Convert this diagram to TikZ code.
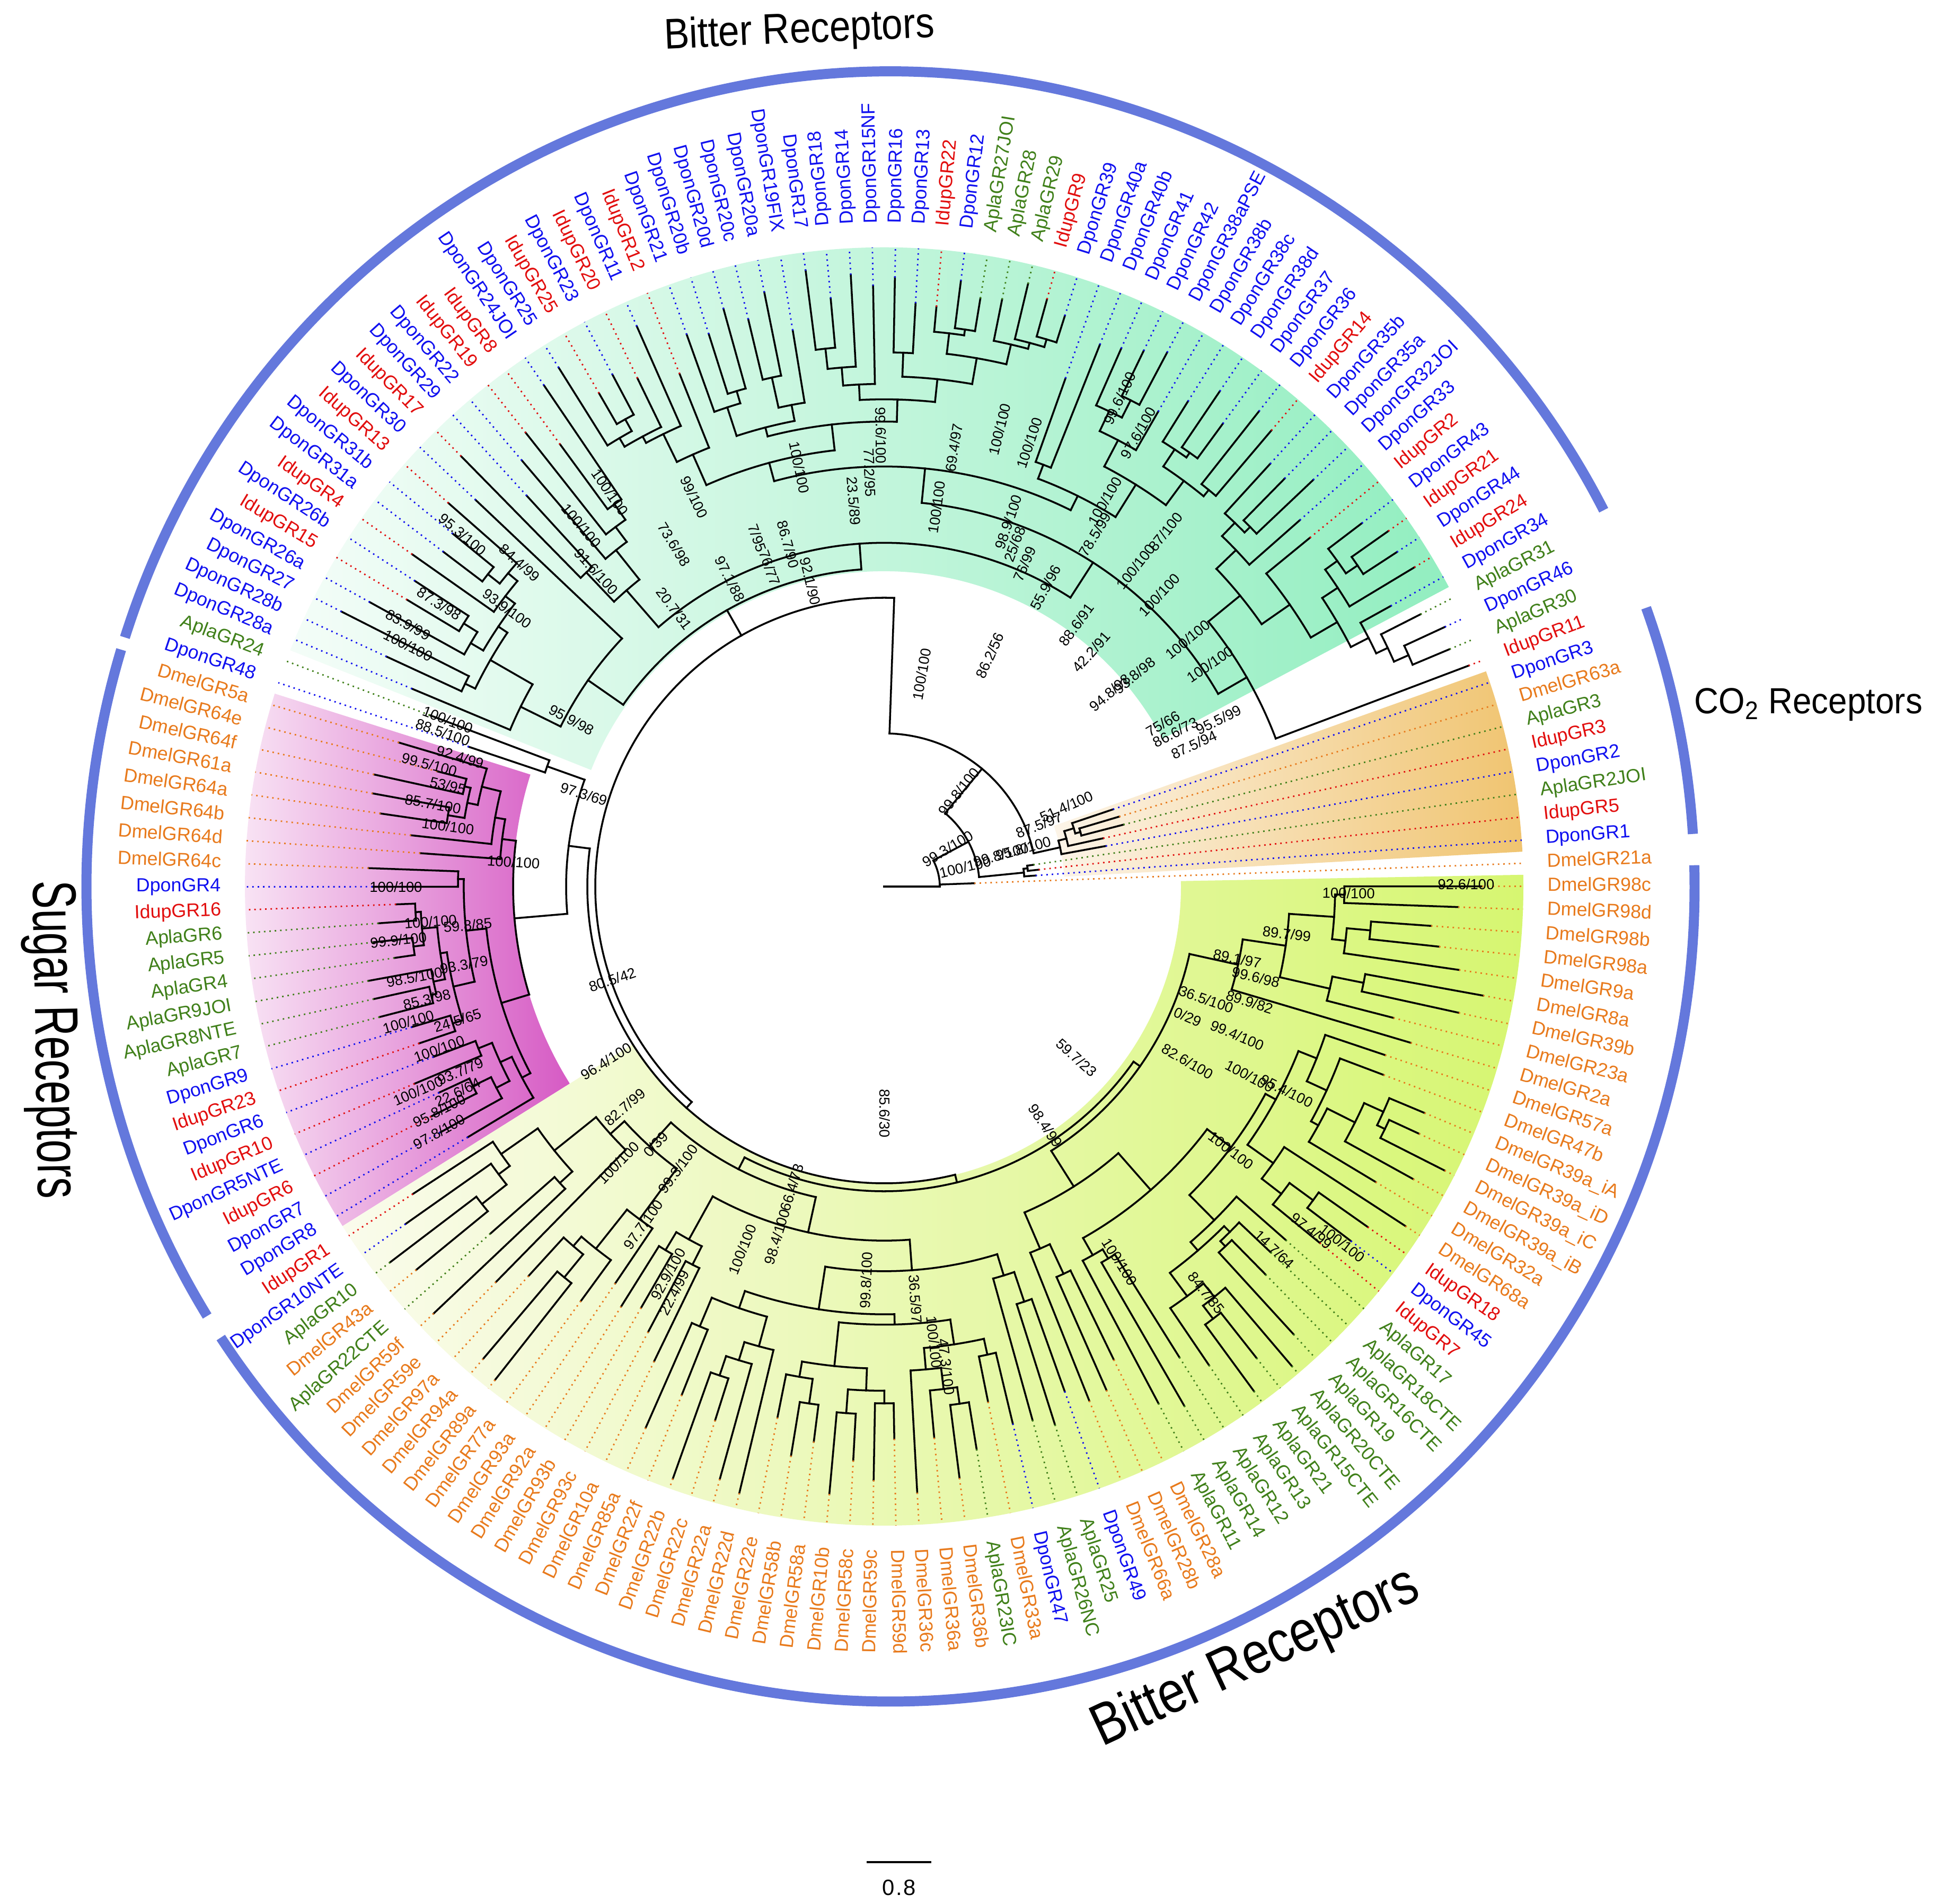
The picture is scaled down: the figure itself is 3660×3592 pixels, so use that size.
\documentclass[tikz,border=0pt]{standalone}
\usepackage{fontspec}
\setmainfont{Liberation Sans}
\usepackage{graphicx}

\definecolor{dmel}{RGB}{232,122,28}
\definecolor{dpon}{RGB}{16,16,240}
\definecolor{idup}{RGB}{226,14,14}
\definecolor{apla}{RGB}{64,128,26}
\definecolor{ringblue}{RGB}{100,120,220}
\definecolor{greenlo}{RGB}{244,253,248}
\definecolor{greenhi}{RGB}{146,238,192}
\definecolor{magentalo}{RGB}{251,238,248}
\definecolor{magentahi}{RGB}{214,90,196}
\definecolor{yellowlo}{RGB}{250,251,236}
\definecolor{yellowhi}{RGB}{214,246,112}
\definecolor{orangelo}{RGB}{252,244,232}
\definecolor{orangehi}{RGB}{240,196,112}

\tikzstyle{branch}=[line width=1pt, line cap=rect]
\tikzstyle{leafline}=[line width=0.8pt, dash pattern=on 0.8pt off 2.1pt]
\tikzstyle{tiplab}=[inner sep=0pt, font=\fontsize{10.2}{12}\selectfont]
\tikzstyle{bootlab}=[inner sep=0pt, font=\fontsize{7.8}{9}\selectfont]
\tikzstyle{ringarc}=[draw=ringblue, line width=5.4pt]
\tikzstyle{grouplab}=[inner sep=0pt]

% leaf angles, radii (1 unit = 1 px of the figure)
\newcommand\aOne{2.09}
\newcommand\dA{2.068966}
\newcommand\Rw{1206}
\newcommand\Rlab{1251}
\newcommand\Tmax{1190}
\newcommand\Lmin{0.3}

% one leaf: index, parent radius, tip radius
\newcommand\grleaf[3]{%
 \begingroup
  \edef\gi{#1}%
  \pgfmathsetmacro\gp{#2}%
  \pgfmathsetmacro\gt{#3}%
  \pgfmathsetmacro\gang{\aOne-(\gi-1)*\dA}%
  \draw[branch] (\gang:\gp) -- (\gang:\gt);
  \pgfmathtruncatemacro\gshow{\gt<\Rw-10}%
  \edef\gcol{\csname lc\gi\endcsname}%
  \ifnum\gshow=1
   \draw[leafline,draw=\gcol] (\gang:\gt) -- (\gang:\Rw);
  \fi
  \xdef\retang{\gang}%
 \endgroup}

% radius of a child node
\newcommand\grrad[2]{%
 \ifnum#2=1
  \pgfmathsetmacro#1{\gr+(\Tmax-\gr)*(\Lmin+rnd*(1-\Lmin))}%
 \else
  \pgfmathsetmacro#1{\gr+(\Tmax-\gr)*(0.05+rnd*0.18)}%
 \fi}

% a clade over leaves first..last: first, last, parent radius, node radius
\newcommand\grclade[4]{%
 \begingroup
  \edef\gfa{#1}\edef\gfb{#2}%
  \ifnum\gfa=\gfb\relax
   \grleaf{\gfa}{#3}{#4}%
  \else
   \pgfmathsetmacro\gp{#3}\pgfmathsetmacro\gr{#4}%
   \edef\gbm{\the\numexpr\gfb-1\relax}%
   \pgfmathrandominteger{\gm}{\gfa}{\gbm}%
   \edef\gmp{\the\numexpr\gm+1\relax}%
   \edef\gsa{\the\numexpr\gm-\gfa+1\relax}%
   \edef\gsb{\the\numexpr\gfb-\gm\relax}%
   \grrad\gra{\gsa}%
   \grrad\grb{\gsb}%
   \grclade{\gfa}{\gm}{\gr}{\gra}\let\gaa\retang
   \grclade{\gmp}{\gfb}{\gr}{\grb}\let\gab\retang
   \draw[branch] (\gaa:\gr) arc[start angle=\gaa, end angle=\gab, radius=\gr];
   \pgfmathsetmacro\gmid{(\gaa+\gab)/2}%
   \draw[branch] (\gmid:\gp) -- (\gmid:\gr);
   \xdef\retang{\gmid}%
  \fi
 \endgroup}

% join two parts: parent radius, node radius, part one, part two
\newcommand\grjoin[4]{%
 \begingroup
  \pgfmathsetmacro\gjp{#1}\pgfmathsetmacro\gjr{#2}%
  #3\let\gja\retang
  #4\let\gjb\retang
  \draw[branch] (\gja:\gjr) arc[start angle=\gja, end angle=\gjb, radius=\gjr];
  \pgfmathsetmacro\gjm{(\gja+\gjb)/2}%
  \draw[branch] (\gjm:\gjp) -- (\gjm:\gjr);
  \xdef\retang{\gjm}%
 \endgroup}

% same, with the node at a given angle
\newcommand\grjoinat[5]{%
 \begingroup
  \pgfmathsetmacro\gjp{#1}\pgfmathsetmacro\gjr{#2}\pgfmathsetmacro\gjm{#3}%
  #4\let\gja\retang
  #5\let\gjb\retang
  \draw[branch] (\gja:\gjr) arc[start angle=\gja, end angle=\gjb, radius=\gjr];
  \draw[branch] (\gjm:\gjr) arc[start angle=\gjm, end angle=\gja, radius=\gjr];
  \draw[branch] (\gjm:\gjp) -- (\gjm:\gjr);
  \xdef\retang{\gjm}%
 \endgroup}

% highlighted clade: start angle, end angle, inner, outer, colour
\newcommand\clsector[5]{%
 \shade[left color=#5lo, right color=#5hi] (#1:#3) arc[start angle=#1, end angle=#2, radius=#3]
   -- (#2:#4) arc[start angle=#2, end angle=#1, radius=#4] -- cycle;}

\begin{document}
\begin{tikzpicture}[x=0.1mm,y=0.1mm]
\useasboundingbox (0,0) rectangle (3660,3592);
\fill[white] (0,0) rectangle (3660,3592);
\coordinate (ctr) at (1668,1919);
\coordinate (rc) at (1680,1919);
\pgfmathsetseed{11}

\begin{scope}[shift={(ctr)}]
 % clade highlights
 \clsector{-332.05}{-201.70}{595}{\Rw}{green}
 \clsector{-356.87}{-340.32}{340}{\Rw}{orange}
 \clsector{-197.57}{-147.91}{700}{\Rw}{magenta}
 \clsector{-147.91}{1.055}{560}{\Rw}{yellow}

 % tip labels
 \foreach \lab/\col [count=\k from 2] in {
  DmelGR98c/dmel, DmelGR98d/dmel, DmelGR98b/dmel, DmelGR98a/dmel, DmelGR9a/dmel,
  DmelGR8a/dmel, DmelGR39b/dmel, DmelGR23a/dmel, DmelGR2a/dmel, DmelGR57a/dmel,
  DmelGR47b/dmel, DmelGR39a\_iA/dmel, DmelGR39a\_iD/dmel, DmelGR39a\_iC/dmel, DmelGR39a\_iB/dmel,
  DmelGR32a/dmel, DmelGR68a/dmel, IdupGR18/idup, DponGR45/dpon, IdupGR7/idup,
  AplaGR17/apla, AplaGR18CTE/apla, AplaGR16CTE/apla, AplaGR19/apla, AplaGR20CTE/apla,
  AplaGR15CTE/apla, AplaGR21/apla, AplaGR13/apla, AplaGR12/apla, AplaGR14/apla,
  AplaGR11/apla, DmelGR28a/dmel, DmelGR28b/dmel, DmelGR66a/dmel, DponGR49/dpon,
  AplaGR25/apla, AplaGR26NC/apla, DponGR47/dpon, DmelGR33a/dmel, AplaGR23IC/apla,
  DmelGR36b/dmel, DmelGR36a/dmel, DmelGR36c/dmel, DmelGR59d/dmel, DmelGR59c/dmel,
  DmelGR58c/dmel, DmelGR10b/dmel, DmelGR58a/dmel, DmelGR58b/dmel, DmelGR22e/dmel,
  DmelGR22d/dmel, DmelGR22a/dmel, DmelGR22c/dmel, DmelGR22b/dmel, DmelGR22f/dmel,
  DmelGR85a/dmel, DmelGR10a/dmel, DmelGR93c/dmel, DmelGR93b/dmel, DmelGR92a/dmel,
  DmelGR93a/dmel, DmelGR77a/dmel, DmelGR89a/dmel, DmelGR94a/dmel, DmelGR97a/dmel,
  DmelGR59e/dmel, DmelGR59f/dmel, AplaGR22CTE/apla, DmelGR43a/dmel, AplaGR10/apla,
  DponGR10NTE/dpon, IdupGR1/idup, DponGR8/dpon, DponGR7/dpon, IdupGR6/idup,
  DponGR5NTE/dpon, IdupGR10/idup, DponGR6/dpon, IdupGR23/idup, DponGR9/dpon,
  AplaGR7/apla, AplaGR8NTE/apla, AplaGR9JOI/apla, AplaGR4/apla, AplaGR5/apla,
  AplaGR6/apla, IdupGR16/idup, DponGR4/dpon, DmelGR64c/dmel, DmelGR64d/dmel,
  DmelGR64b/dmel, DmelGR64a/dmel, DmelGR61a/dmel, DmelGR64f/dmel, DmelGR64e/dmel,
  DmelGR5a/dmel, DponGR48/dpon, AplaGR24/apla, DponGR28a/dpon, DponGR28b/dpon,
  DponGR27/dpon, DponGR26a/dpon, IdupGR15/idup, DponGR26b/dpon, IdupGR4/idup,
  DponGR31a/dpon, DponGR31b/dpon, IdupGR13/idup, DponGR30/dpon, IdupGR17/idup,
  DponGR29/dpon, DponGR22/dpon, IdupGR19/idup, IdupGR8/idup, DponGR24JOI/dpon,
  DponGR25/dpon, IdupGR25/idup, DponGR23/dpon, IdupGR20/idup, DponGR11/dpon,
  IdupGR12/idup, DponGR21/dpon, DponGR20b/dpon, DponGR20d/dpon, DponGR20c/dpon,
  DponGR20a/dpon, DponGR19FIX/dpon, DponGR17/dpon, DponGR18/dpon, DponGR14/dpon,
  DponGR15NF/dpon, DponGR16/dpon, DponGR13/dpon, IdupGR22/idup, DponGR12/dpon,
  AplaGR27JOI/apla, AplaGR28/apla, AplaGR29/apla, IdupGR9/idup, DponGR39/dpon,
  DponGR40a/dpon, DponGR40b/dpon, DponGR41/dpon, DponGR42/dpon, DponGR38aPSE/dpon,
  DponGR38b/dpon, DponGR38c/dpon, DponGR38d/dpon, DponGR37/dpon, DponGR36/dpon,
  IdupGR14/idup, DponGR35b/dpon, DponGR35a/dpon, DponGR32JOI/dpon, DponGR33/dpon,
  IdupGR2/idup, DponGR43/dpon, IdupGR21/idup, DponGR44/dpon, IdupGR24/idup,
  DponGR34/dpon, AplaGR31/apla, DponGR46/dpon, AplaGR30/apla, IdupGR11/idup,
  DponGR3/dpon, DmelGR63a/dmel, AplaGR3/apla, IdupGR3/idup, DponGR2/dpon,
  AplaGR2JOI/apla, IdupGR5/idup, DponGR1/dpon, DmelGR21a/dmel}{
  \pgfmathsetmacro\ang{\aOne-(\k-1)*\dA}
  \pgfmathsetmacro\nang{mod(\ang+720,360)}
  \pgfmathtruncatemacro\lefthalf{(\nang>97)&&(\nang<269)}
  \expandafter\xdef\csname lc\k\endcsname{\col}
  \ifnum\lefthalf=1
   \node[tiplab, text=\col, rotate=\nang-180, anchor=mid east] (tip\k) at (\ang:\Rlab) {\lab};
  \else
   \node[tiplab, text=\col, rotate=\nang, anchor=mid west] (tip\k) at (\ang:\Rlab) {\lab};
  \fi
 }

 % the tree
 \grjoinat{0}{105}{-360}
  {\grleaf{175}{105}{170}}
  {\grjoin{105}{180}
   {\def\Tmax{300}\def\Lmin{0.4}\grclade{172}{174}{180}{265}}
   {\grjoin{180}{289}
    {\def\Tmax{470}\def\Lmin{0.5}\grclade{167}{171}{289}{340}}
    {\grjoinat{289}{545}{-272}
     {\def\Tmax{1185}\def\Lmin{0.35}\grclade{100}{166}{545}{600}}
     {\grjoin{545}{560}
      {\grjoin{560}{600}
       {\def\Tmax{1000}\def\Lmin{0.4}\grclade{98}{99}{600}{675}}
       {\def\Tmax{1000}\def\Lmin{0.3}\grclade{74}{97}{600}{700}}}
      {\grjoin{560}{575}
       {\def\Tmax{1190}\def\Lmin{0.3}\grclade{36}{73}{575}{600}}
       {\def\Tmax{1190}\def\Lmin{0.3}\grclade{2}{35}{575}{590}}}}}}}

 % support values, placed along the branches
 \foreach \bx/\by/\ba/\bb [count=\n] in {
  493/398/100/100, 374/432/95.3/100, 545/440/73.6/98, 561/402/99/100, 482/462/91.6/100,
  590/468/97.1/88, 637/440/86.7/90, 655/470/92.1/90, 646/378/100/100, 690/405/23.5/89,
  703/382/77.2/95, 712/352/99.6/100, 771/362/69.4/97, 757/410/100/100, 808/347/100/100,
  815/422/98.9/100, 820/440/25/68, 828/456/76/99, 845/475/55.9/96, 905/322/99.6/100,
  893/405/100/100, 885/432/78.5/99, 942/430/87/100, 918/458/100/100, 937/481/100/100,
  882/527/42.2/91, 960/517/100/100, 978/537/100/100, 917/546/93.8/98, 940/585/75/66,
  985/582/95.5/99, 965/602/87.5/94, 950/592/86.6/73, 800/530/86.2/56, 745/545/100/100,
  545/492/20.7/31, 462/582/95.9/98, 472/642/97.3/69, 415/697/100/100, 495/792/80.5/42,
  470/425/100/100, 420/455/84.4/99, 410/492/93.9/100, 355/488/87.3/98, 330/505/83.9/99,
  330/522/100/100, 612/435/7/95, 622/459/76/77, 832/358/100/100, 920/350/97.6/100,
  870/505/88.6/91, 897/560/94.8/98,
  775/640/99.8/100, 766/686/99.3/100, 780/701/100/100, 809/691/99.8/100, 827/686/95.8/100,
  840/667/87.5/97, 862/652/51.4/100,
  362/668/100/100, 350/650/85.7/100, 362/635/53/95, 347/618/99.5/100, 372/612/92.4/99,
  358/592/88.5/100, 362/582/100/100, 320/717/100/100, 348/745/100/100, 378/748/59.8/85,
  322/760/99.9/100, 375/780/93.3/79, 335/790/98.5/100, 345/808/85.3/98, 370/825/24.5/65,
  330/826/100/100, 355/848/100/100, 372/866/93.7/79, 338/882/100/100, 370/883/22.6/64,
  355/898/95.8/100, 355/915/97.8/100,
  490/858/96.4/100, 505/895/82.7/99, 500/940/100/100, 530/925/0/39, 548/945/99.3/100,
  628/1000/98.4/100, 640/960/66.4/73, 700/1035/99.8/100, 740/1050/36.5/97, 755/1085/100/100,
  765/1105/47.3/100, 600/1010/100/100, 520/990/97.7/100, 540/1030/92.9/100, 545/1045/22.4/99,
  715/900/85.6/30, 870/855/59.7/23, 845/910/98.4/99, 905/1020/100/100, 1040/755/89.7/99,
  1090/722/100/100, 1185/715/92.6/100, 1000/775/89.1/97, 1015/790/99.6/98, 975/808/36.5/100,
  1010/810/89.9/82, 960/822/0/29, 1000/837/99.4/100, 1010/870/100/100, 1040/882/95.4/100,
  960/858/82.6/100, 995/930/100/100, 1060/995/97.4/99, 1030/1010/14.7/64, 1085/1005/100/100,
  975/1045/84.7/85}{
  \pgfmathsetmacro\sx{\bx*2.3342-1668}
  \pgfmathsetmacro\sy{1673-\by*2.3342}
  \pgfmathsetmacro\bang{atan2(\sy,\sx)}
  \pgfmathsetmacro\brot{\bang>90 ? \bang-180 : (\bang<-90 ? \bang+180 : \bang)}
  \node[bootlab, rotate=\brot] (bs\n) at (\sx,\sy) {\ba/\bb};
 }
\end{scope}

% receptor groups
\draw[ringarc] (rc) ++(162.2:1517 and 1538) arc[start angle=162.2, end angle=27.5, x radius=1517, y radius=1538];
\draw[ringarc] (rc) ++(20.0:1517 and 1538) arc[start angle=20.0, end angle=3.7, x radius=1517, y radius=1538];
\draw[ringarc] (rc) ++(1.5:1517 and 1538) arc[start angle=1.5, end angle=-146.4, x radius=1517, y radius=1538];
\draw[ringarc] (rc) ++(211.8:1517 and 1538) arc[start angle=211.8, end angle=163.1, x radius=1517, y radius=1538];

\node[grouplab, anchor=base, rotate=2.5, font=\fontsize{23}{26}\selectfont] (bittop) at (1509,3511) {\scalebox{0.88}[1]{Bitter Receptors}};
\node[grouplab, anchor=base west, font=\fontsize{19.5}{22}\selectfont] (co2) at (3196,2245) {\scalebox{0.93}[1]{CO\textsubscript{2} Receptors}};
\node[grouplab, anchor=base west, rotate=25, font=\fontsize{31.5}{36}\selectfont] (bitbot) at (2079,295) {\scalebox{0.84}[1]{Bitter Receptors}};
\node[grouplab, anchor=base west, rotate=-89, font=\fontsize{33}{37}\selectfont] (sugar) at (62,1930) {\scalebox{0.69}[1]{Sugar Receptors}};

% scale bar
\coordinate (sbl) at (1635,78);
\coordinate (sbr) at (1757,78);
\draw[line width=1pt] (sbl) -- (sbr);
\node[grouplab, font=\fontsize{11.9}{14}\selectfont] (sbtext) at (1696,30) {0\kern0.06em.\kern0.06em8};
\end{tikzpicture}
\end{document}
